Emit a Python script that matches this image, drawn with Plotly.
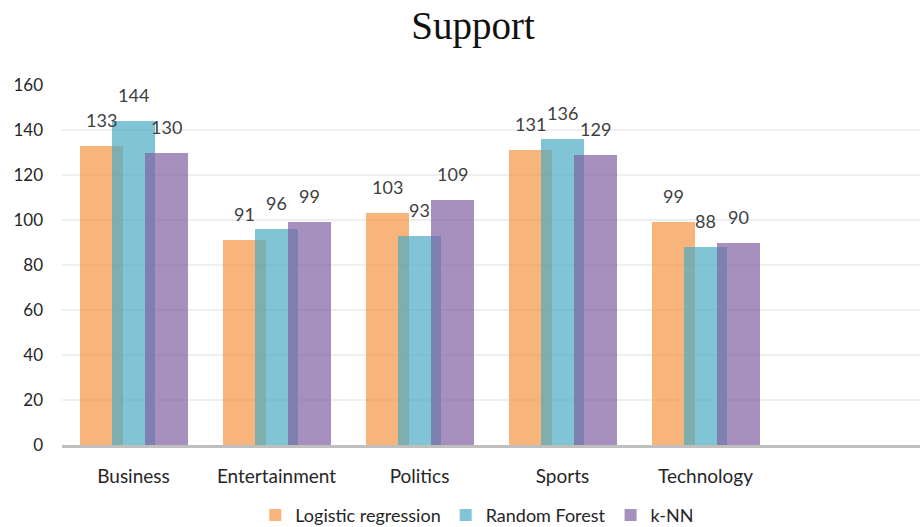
import plotly.graph_objects as go

categories = ["Business", "Entertainment", "Politics", "Sports", "Technology"]
logistic = [133, 91, 103, 131, 99]
random_forest = [144, 96, 93, 136, 88]
knn = [130, 99, 109, 129, 90]

series = [
    ("Logistic regression", logistic, "rgba(244,149,69,0.7)", -0.374),
    ("Random Forest", random_forest, "rgba(76,171,196,0.7)", -0.150),
    ("k-NN", knn, "rgba(128,99,162,0.7)", 0.080),
]
bar_width = 0.30

fig = go.Figure()
annotations = []
for name, vals, color, off in series:
    fig.add_trace(go.Bar(
        name=name, x=categories, y=vals,
        width=bar_width, offset=off,
        marker=dict(color=color, line=dict(width=0)),
    ))
    for i, v in enumerate(vals):
        annotations.append(dict(
            x=i + off + bar_width / 2, y=v, xref="x", yref="y",
            text=str(v), showarrow=False, yanchor="bottom", yshift=13,
            font=dict(family="Lato", size=18, color="#404040"),
        ))

fig.update_layout(
    barmode="overlay",
    width=922, height=527,
    margin=dict(l=62, r=2, t=85, b=82, autoexpand=False),
    paper_bgcolor="white", plot_bgcolor="white",
    title=dict(text="Support", x=0.513, xanchor="center", y=0.952, yanchor="middle",
               font=dict(family="Liberation Serif", size=39, color="#111111")),
    font=dict(family="Lato", size=18, color="#262626"),
    legend=dict(orientation="h", x=0.484, xanchor="center",
                yref="container", y=0.022, yanchor="middle",
                font=dict(family="Lato", size=18, color="#262626"),
                itemwidth=30, tracegroupgap=0),
    annotations=annotations,
    bargap=0,
)
fig.update_xaxes(
    type="category", categoryorder="array", categoryarray=categories,
    range=[-0.5, 5.5], showgrid=False,
    showline=True, linecolor="#bfbfbf", linewidth=3,
    ticks="", ticklabelstandoff=12,
    tickfont=dict(family="Lato", size=19, color="#262626"),
)
fig.update_yaxes(
    range=[0, 160], dtick=20, showgrid=True,
    gridcolor="rgba(230,230,230,0.65)", gridwidth=1.5,
    layer="above traces", zeroline=False, showline=False,
    ticks="", ticklabelstandoff=18,
    tickfont=dict(family="Lato", size=17, color="#262626"),
)

fig.write_html("out.html")
